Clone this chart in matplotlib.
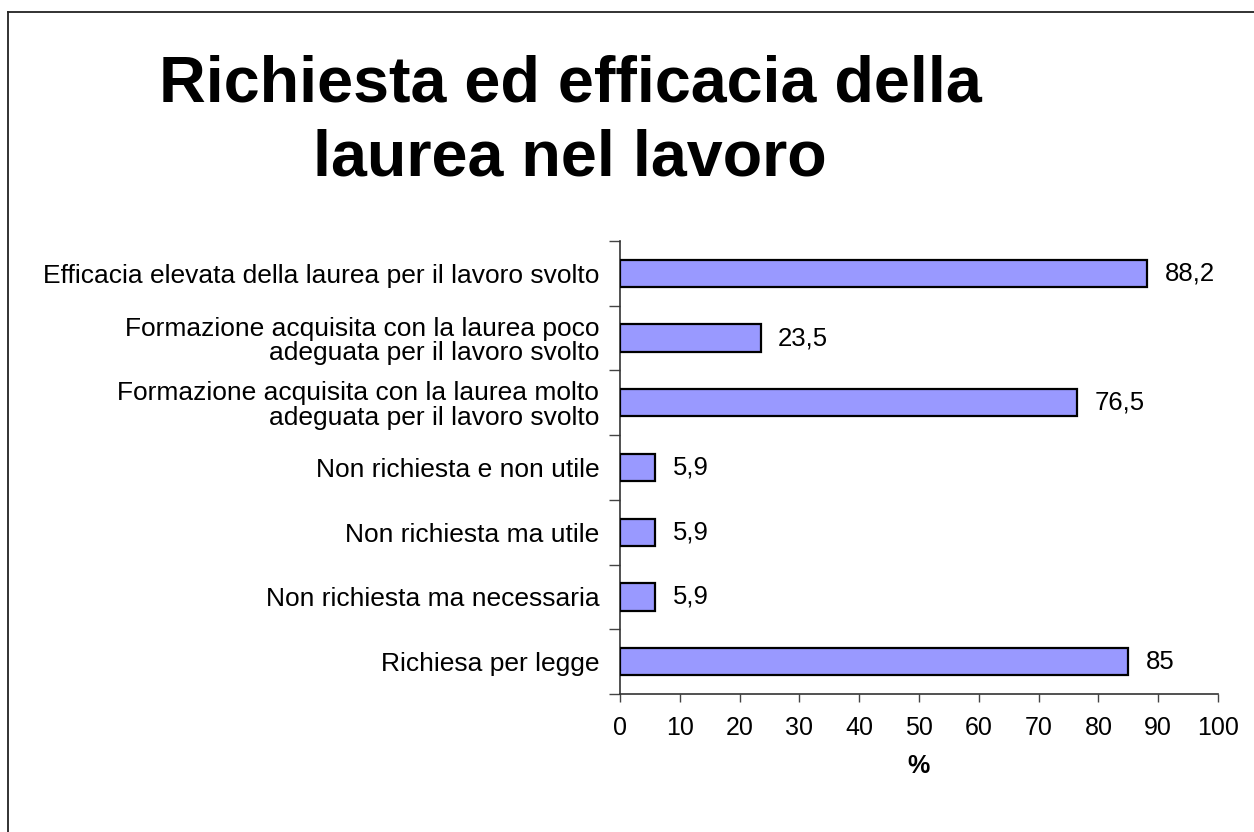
import matplotlib
matplotlib.use("Agg")
import matplotlib.pyplot as plt
from matplotlib.lines import Line2D

plt.rcParams['font.family'] = ['Liberation Sans', 'DejaVu Sans']

categories = [
    "Richiesa per legge",
    "Non richiesta ma necessaria",
    "Non richiesta ma utile",
    "Non richiesta e non utile",
    "Formazione acquisita con la laurea molto\nadeguata per il lavoro svolto",
    "Formazione acquisita con la laurea poco\nadeguata per il lavoro svolto",
    "Efficacia elevata della laurea per il lavoro svolto",
]
values = [85, 5.9, 5.9, 5.9, 76.5, 23.5, 88.2]
value_labels = ["85", "5,9", "5,9", "5,9", "76,5", "23,5", "88,2"]
xticks = [0, 10, 20, 30, 40, 50, 60, 70, 80, 90, 100]
title_lines = ["Richiesta ed efficacia della", "laurea nel lavoro"]

W, H = 1254, 832
fig = plt.figure(figsize=(W / 100, H / 100), dpi=100)
fig.patch.set_facecolor("white")

# frame lines (top and left)
fig.add_artist(Line2D([8 / W, 8 / W], [0, 1 - 12 / H], transform=fig.transFigure, color="#222222", lw=1.3))
fig.add_artist(Line2D([8 / W, 1], [1 - 12 / H, 1 - 12 / H], transform=fig.transFigure, color="#222222", lw=1.3))

ax = fig.add_axes([620 / W, 1 - 694 / H, (1218 - 620) / W, (694 - 241) / H])
y = list(range(len(categories)))
ax.barh(y, values, height=0.42, color="#9999FF", edgecolor="black", linewidth=1.6, zorder=3)
for yi, v, lab in zip(y, values, value_labels):
    ax.text(v + 2.9, yi, lab, va="center", ha="left", fontsize=18.5, color="black")

ax.set_xlim(0, 100)
ax.set_ylim(-0.5, len(categories) - 0.5)
ax.set_xticks(xticks)
ax.set_xticklabels([str(t) for t in xticks], fontsize=18)
ax.set_yticks(y)
ax.set_yticklabels(categories, fontsize=19)
for lab in ax.get_yticklabels():
    lab.set_linespacing(1.02)
ax.tick_params(axis="y", which="major", length=0, pad=15)
ax.set_yticks([i - 0.5 for i in range(len(categories) + 1)], minor=True)
ax.tick_params(axis="y", which="minor", length=8, width=1, color="#444444")
ax.tick_params(axis="x", length=6, width=1, color="#444444", pad=10)
for s in ["top", "right"]:
    ax.spines[s].set_visible(False)
for s in ["left", "bottom"]:
    ax.spines[s].set_color("#333333")
    ax.spines[s].set_linewidth(1.2)
ax.set_xlabel("%", fontsize=18, fontweight="bold", labelpad=10)

fig.text(570 / W, 1 - 102 / H, title_lines[0], ha="center", va="baseline",
         fontsize=46.5, fontweight="bold")
fig.text(570 / W, 1 - 176 / H, title_lines[1], ha="center", va="baseline",
         fontsize=46.5, fontweight="bold")

fig.savefig("out.png", dpi=100, facecolor="white")
